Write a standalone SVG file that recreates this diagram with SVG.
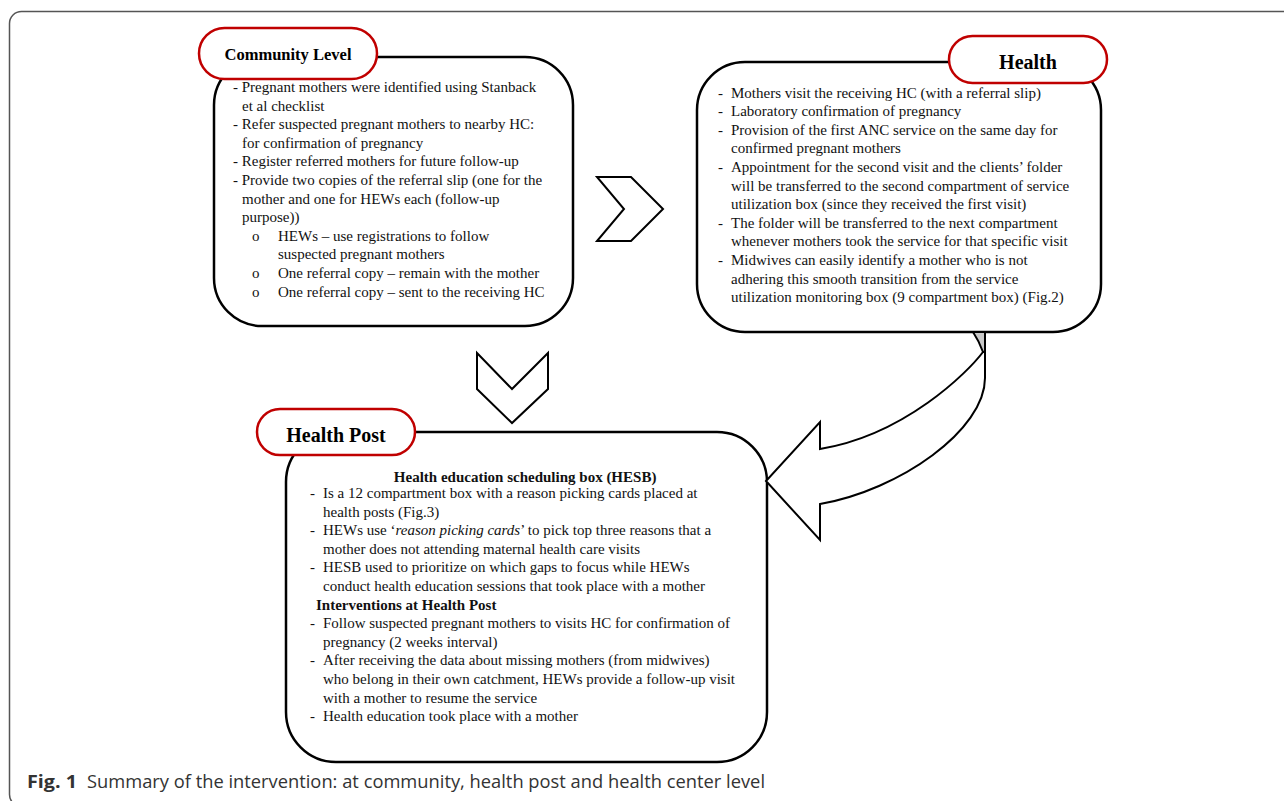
<svg xmlns="http://www.w3.org/2000/svg" width="1284" height="801" viewBox="0 0 1284 801">
<style>
.box{fill:#fff;stroke:#000;stroke-width:2.5}
.pill{fill:#fff;stroke:#c00000;stroke-width:2.5}
.t{font-family:"Liberation Serif","Times New Roman",serif;font-size:15px;fill:#111}
.b{font-weight:bold}
.h{font-family:"Liberation Serif","Times New Roman",serif;font-weight:bold;fill:#000}
.chev{fill:#fff;stroke:#000;stroke-width:2}
.cap{font-family:"Open Sans","Noto Sans",sans-serif;font-size:18px;fill:#333}
</style>
<rect width="1284" height="801" fill="#fff"/>
<rect x="9.5" y="11.5" width="1290" height="795" rx="12" fill="none" stroke="#555" stroke-width="1.5"/>

<g id="connectors">
  <polygon class="chev" points="597,177 631,177 663,209 631,241 597,241 624,209"/>
  <polygon class="chev" points="477,353 512,389 548,353 548,389 512,423 477,389"/>
</g>

<g id="community-level">
  <rect class="box" x="214" y="57" width="359" height="269" rx="48"/>
  <rect class="pill" x="199" y="28" width="178" height="51" rx="25.5"/>
  <text class="h" x="288" y="60" font-size="16.5" text-anchor="middle">Community Level</text>
  <text class="t">
    <tspan x="233" y="92">- Pregnant mothers were identified using Stanback</tspan>
    <tspan x="242" y="110.6">et al checklist</tspan>
    <tspan x="233" y="129.2">- Refer suspected pregnant mothers to nearby HC:</tspan>
    <tspan x="242" y="147.8">for confirmation of pregnancy</tspan>
    <tspan x="233" y="166.4">- Register referred mothers for future follow-up</tspan>
    <tspan x="233" y="185">- Provide two copies of the referral slip (one for the</tspan>
    <tspan x="242" y="203.6">mother and one for HEWs each (follow-up</tspan>
    <tspan x="242" y="222.2">purpose))</tspan>
    <tspan x="252" y="240.8">o</tspan><tspan x="278" y="240.8">HEWs – use registrations to follow</tspan>
    <tspan x="278" y="259.4">suspected  pregnant mothers</tspan>
    <tspan x="252" y="278">o</tspan><tspan x="278" y="278">One referral copy – remain with the mother</tspan>
    <tspan x="252" y="296.6">o</tspan><tspan x="278" y="296.6">One referral copy – sent to the receiving HC</tspan>
  </text>
</g>

<g id="health-center">
  <rect class="box" x="697" y="62" width="404" height="270" rx="48"/>
  <rect class="pill" x="949" y="36" width="158" height="47" rx="23.5"/>
  <text class="h" x="1028" y="69" font-size="20" text-anchor="middle">Health</text>
  <text class="t">
    <tspan x="718" y="97.5">-</tspan><tspan x="731" y="97.5">Mothers visit the receiving HC (with a referral slip)</tspan>
    <tspan x="718" y="116.1">-</tspan><tspan x="731" y="116.1">Laboratory confirmation of pregnancy</tspan>
    <tspan x="718" y="134.7">-</tspan><tspan x="731" y="134.7">Provision of the first ANC service on the same day for</tspan>
    <tspan x="731" y="153.3">confirmed pregnant mothers</tspan>
    <tspan x="718" y="171.9">-</tspan><tspan x="731" y="171.9">Appointment for the second visit and the clients’ folder</tspan>
    <tspan x="731" y="190.5">will be transferred to the second compartment of service</tspan>
    <tspan x="731" y="209.1">utilization box (since they received the first visit)</tspan>
    <tspan x="718" y="227.7">-</tspan><tspan x="731" y="227.7">The folder will be transferred to the next compartment</tspan>
    <tspan x="731" y="246.3">whenever mothers took the service for that specific visit</tspan>
    <tspan x="718" y="264.9">-</tspan><tspan x="731" y="264.9">Midwives can easily identify a mother who is not</tspan>
    <tspan x="731" y="283.5">adhering this smooth transition from the service</tspan>
    <tspan x="731" y="302.1">utilization monitoring box (9 compartment box) (Fig.2)</tspan>
  </text>
</g>

<g id="health-post">
  <rect class="box" x="286" y="432" width="481" height="330" rx="50"/>
  <rect class="pill" x="257" y="409" width="158" height="46" rx="23"/>
  <text class="h" x="336" y="442" font-size="20" text-anchor="middle">Health Post</text>
  <text class="t">
    <tspan class="b" x="527" y="481.5" text-anchor="middle">Health education scheduling box (HESB)</tspan>
    <tspan x="310" y="498">-</tspan><tspan x="323" y="498">Is a 12 compartment box with a reason picking cards placed at</tspan>
    <tspan x="323" y="516.6">health posts (Fig.3)</tspan>
    <tspan x="310" y="535.2">-</tspan><tspan x="323" y="535.2">HEWs use ‘</tspan><tspan font-style="italic">reason picking cards</tspan><tspan>’ to pick top three reasons that a</tspan>
    <tspan x="323" y="553.8">mother does not attending maternal health care visits</tspan>
    <tspan x="310" y="572.4">-</tspan><tspan x="323" y="572.4">HESB used to prioritize on which gaps to focus while HEWs</tspan>
    <tspan x="323" y="591">conduct health education sessions that took place with a mother</tspan>
    <tspan class="b" x="316" y="609.6">Interventions at Health Post</tspan>
    <tspan x="310" y="628.2">-</tspan><tspan x="323" y="628.2">Follow suspected pregnant mothers to visits HC for confirmation of</tspan>
    <tspan x="323" y="646.8">pregnancy (2 weeks interval)</tspan>
    <tspan x="310" y="665.4">-</tspan><tspan x="323" y="665.4">After receiving the data about missing mothers (from midwives)</tspan>
    <tspan x="323" y="684">who belong in their own catchment, HEWs provide a follow-up visit</tspan>
    <tspan x="323" y="702.6">with a mother to resume the service</tspan>
    <tspan x="310" y="721.2">-</tspan><tspan x="323" y="721.2">Health education took place with a mother</tspan>
  </text>
</g>

<g id="curved-arrow">
  <path d="M 983,352 C 968,372 905,435 820,449 L 820,422 L 766,481 L 820,540 L 820,504 C 900,490 985,430 985,378 L 985,352 Z" fill="#fff" stroke="#000" stroke-width="2" stroke-linejoin="miter"/>
  <path d="M 973,332 Q 979,341 983,352 L 985,352 L 985,332 Z" fill="#c8c8c8" stroke="#000" stroke-width="2"/>
</g>

<g id="caption">
  <text class="cap" x="27" y="788" font-weight="bold" fill="#222" textLength="50" lengthAdjust="spacingAndGlyphs">Fig. 1</text>
  <text class="cap" x="87" y="788" textLength="678" lengthAdjust="spacingAndGlyphs">Summary of the intervention: at community, health post and health center level</text>
</g>
</svg>
